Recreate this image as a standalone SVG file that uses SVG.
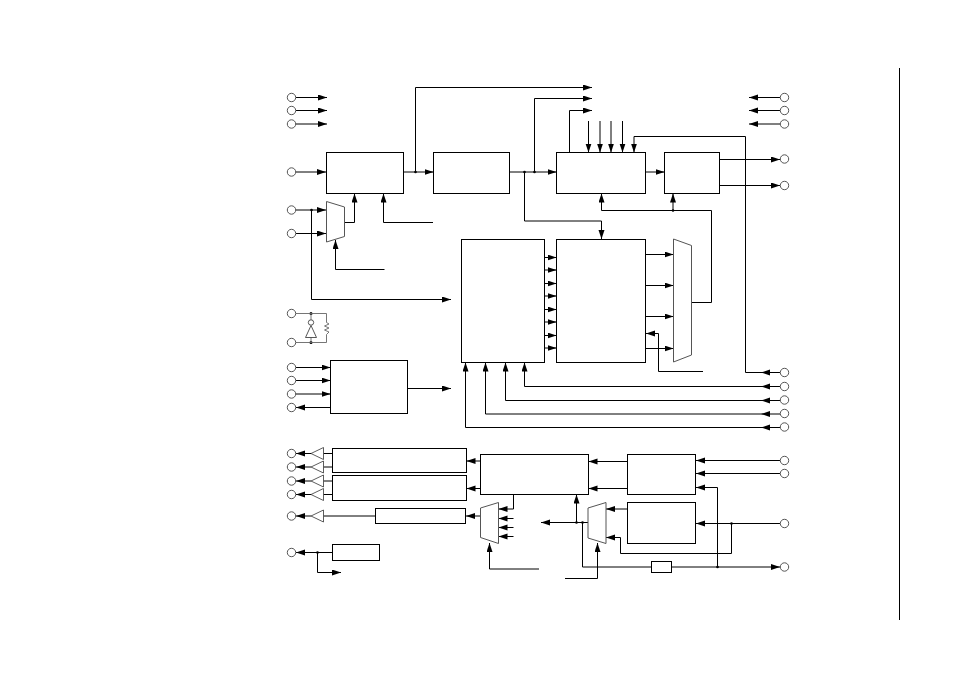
<svg xmlns="http://www.w3.org/2000/svg" width="972" height="688" viewBox="0 0 972 688">
<style>
.b{fill:#fff;stroke:#000;stroke-width:1}
.m{fill:#fff;stroke:#555;stroke-width:1}
.t{fill:#fff;stroke:#333;stroke-width:.8}
.g{fill:none;stroke:#666;stroke-width:.9}
.k{fill:#fff;stroke:#444;stroke-width:.9}
#c path{fill:none;stroke:#000;stroke-width:1}
#c path.a{marker-end:url(#h)}
#c circle{fill:#000;stroke:none}
</style>
<defs>
<marker id="h" markerUnits="userSpaceOnUse" markerWidth="10" markerHeight="7" refX="9" refY="3" orient="auto"><path d="M0,0 L9,3 L0,6z" fill="#000"/></marker>
</defs>
<rect width="972" height="688" fill="#fff"/>
<g id="rule"><path d="M899.5 68V620" stroke="#000" stroke-width="1" fill="none"/></g>
<g id="c">
<path class="a" d="M296 97.5H327"/><path class="a" d="M296 110.5H327"/><path class="a" d="M296 124H327"/>
<path class="a" d="M296 172H326"/>
<path class="a" d="M296 210H326"/><path class="a" d="M296 233.5H326"/>
<path d="M311.5 210V299.5H440"/><path class="a" d="M440 299.5H451"/>
<path class="a" d="M344 222.5H354.500V193.500"/>
<path class="a" d="M433 222.500H383.500V193.500"/>
<path class="a" d="M384.500 269.500H335.500V240"/>
<path class="a" d="M403.500 172H433.500"/>
<path class="a" d="M415.500 172V87.500H592"/>
<path class="a" d="M509.500 172H556.500"/>
<path class="a" d="M534.500 172V98.500H592"/>
<path class="a" d="M524.500 172V221H601.500V239"/>
<path class="a" d="M569.500 152.500V110.500H592"/>
<path class="a" d="M588.500 121V152.500"/><path class="a" d="M600 121V152.500"/><path class="a" d="M611 121V152.500"/><path class="a" d="M622.500 121V152.500"/>
<path class="a" d="M745.500 372.500V136.500H634V152.500"/>
<path class="a" d="M645.500 172H664.500"/>
<path class="a" d="M719.500 159.500H780"/><path class="a" d="M719.500 185.500H780"/>
<path class="a" d="M780 97.500H749"/><path class="a" d="M780 110.500H749"/><path class="a" d="M780 124H749"/>
<path class="a" d="M692 302.500H711.500V210.500H601.500V193.500"/>
<path class="a" d="M673 210.500V193.500"/>
<path class="a" d="M545 257.500H556.500"/><path class="a" d="M545 270H556.500"/><path class="a" d="M545 283.500H556.500"/><path class="a" d="M545 296H556.500"/><path class="a" d="M545 309.500H556.500"/><path class="a" d="M545 322H556.500"/><path class="a" d="M545 335.500H556.500"/><path class="a" d="M545 348H556.500"/>
<path class="a" d="M645.500 254.500H673.500"/><path class="a" d="M645.500 285.500H673.500"/><path class="a" d="M645.500 316.500H673.500"/><path class="a" d="M645.500 348.500H673.500"/>
<path class="a" d="M703 371.500H658.500V333.500H646"/>
<path class="a" d="M780 372.500H761"/><path d="M761 372.500H745.500"/>
<path class="a" d="M780 386.500H761"/><path class="a" d="M761 386.500H524.500V362.500"/>
<path class="a" d="M780 400.500H761"/><path class="a" d="M761 400.500H505.500V362.500"/>
<path class="a" d="M780 414H761"/><path class="a" d="M761 414H485.500V362.500"/>
<path class="a" d="M780 427.500H761"/><path class="a" d="M761 427.500H465.500V362.500"/>
<path class="a" d="M296 367.500H330.500"/><path class="a" d="M296 380.500H330.500"/><path class="a" d="M296 394H330.500"/><path class="a" d="M330.500 407.500H296"/>
<path class="a" d="M407.500 388.500H451"/>
<path d="M323.500 453.500H332.500"/><path d="M323.500 467H332.500"/><path d="M323.500 481H332.500"/><path d="M323.500 494.500H332.500"/><path d="M323.500 516H375.500"/>
<path class="a" d="M311 453.500H296"/><path class="a" d="M311 467H296"/><path class="a" d="M311 481H296"/><path class="a" d="M311 494.500H296"/><path class="a" d="M311 516H296"/>
<path class="a" d="M480.500 461H466.500"/><path class="a" d="M480.500 488.500H466.500"/><path class="a" d="M480.500 516H466"/>
<path class="a" d="M513.500 494.500V509H498.500"/><path class="a" d="M513.500 518.500H498.500"/><path class="a" d="M513.500 527.500H498.500"/><path class="a" d="M513.500 536.500H498.500"/>
<path class="a" d="M539 569H489.500V543"/>
<path class="a" d="M332.500 552.500H296"/><path class="a" d="M317.500 552.500V572.500H341"/>
<path class="a" d="M627.500 461.500H588.500"/><path class="a" d="M627.500 488.500H588.500"/>
<path class="a" d="M780 460.500H696"/><path class="a" d="M780 473.500H696"/>
<path class="a" d="M717.500 567V487.500H696"/>
<path class="a" d="M780 523.500H696"/>
<path class="a" d="M731.500 523.500V553.500H620.500V537.500H606"/>
<path class="a" d="M627.500 509H606"/>
<path class="a" d="M588 522.500H541"/>
<path class="a" d="M576.500 522.500V494.500"/>
<path d="M582.500 522.500V567H651.500"/>
<path class="a" d="M671.500 567H780"/>
<path class="a" d="M565 578.500H597.500V543"/>
<circle cx="415.500" cy="172" r="1.300"/><circle cx="524.500" cy="172" r="1.300"/><circle cx="534.500" cy="172" r="1.300"/><circle cx="673" cy="210.500" r="1.300"/><circle cx="311.500" cy="210" r="1.300"/><circle cx="317.500" cy="552.500" r="1.300"/><circle cx="576.500" cy="522.500" r="1.300"/><circle cx="582.500" cy="522.500" r="1.300"/><circle cx="717.500" cy="567" r="1.300"/><circle cx="731.500" cy="523.500" r="1.300"/><circle cx="311" cy="313.500" r="1.500"/><circle cx="311" cy="342.500" r="1.500"/>
</g>
<g id="blockA"><rect class="b" x="326.500" y="152.500" width="77" height="41"/></g>
<g id="blockB"><rect class="b" x="433.500" y="152.500" width="76" height="41"/></g>
<g id="blockC"><rect class="b" x="556.500" y="152.500" width="89" height="41"/></g>
<g id="blockD"><rect class="b" x="664.500" y="152.500" width="55" height="41"/></g>
<g id="blockE"><rect class="b" x="461.500" y="239.500" width="83" height="123"/></g>
<g id="blockF"><rect class="b" x="556.500" y="239.500" width="89" height="123"/></g>
<g id="blockG"><rect class="b" x="330.500" y="360.500" width="77" height="53"/></g>
<g id="blockH"><rect class="b" x="332.500" y="448.500" width="134" height="24"/></g>
<g id="blockI"><rect class="b" x="332.500" y="475.500" width="134" height="25"/></g>
<g id="blockJ"><rect class="b" x="375.500" y="508.500" width="90" height="15"/></g>
<g id="blockK"><rect class="b" x="480.500" y="454.500" width="108" height="40"/></g>
<g id="blockL"><rect class="b" x="627.500" y="454.500" width="68" height="40"/></g>
<g id="blockM"><rect class="b" x="627.500" y="502.500" width="68" height="41"/></g>
<g id="blockN"><rect class="b" x="651.500" y="561.500" width="20" height="11"/></g>
<g id="blockO"><rect class="b" x="332.500" y="544.500" width="47" height="16"/></g>
<g id="mux1"><path class="m" d="M326.500 201.500L344.500 207V236.500L326.500 242z"/></g>
<g id="mux2"><path class="m" d="M673.500 239L691.500 245.500V355L673.500 362z"/></g>
<g id="mux3"><path class="m" d="M480.500 508L498.500 502.500V543.500L480.500 537.500z"/></g>
<g id="mux4"><path class="m" d="M588 508L606 502.500V543.500L588 538z"/></g>
<g id="xtal">
<path class="g" d="M296 313.500H326.500V322.500M326.500 334.500V342.500H296"/>
<path class="g" d="M326.500 322.500L329 324L324.500 326L329 328L324.500 330L329 332L326.500 334.500"/>
<path class="g" d="M311 313.500V320M311 337V342.500"/>
<circle class="k" cx="311" cy="322.500" r="2.700"/>
<path class="k" d="M311 325.500L316.500 337.500H305.500z"/>
</g>
<g id="buf1"><path class="t" d="M311 453.500L323.500 447.500V459.500z"/></g>
<g id="buf2"><path class="t" d="M311 467L323.500 461V473z"/></g>
<g id="buf3"><path class="t" d="M311 481L323.500 475V487z"/></g>
<g id="buf4"><path class="t" d="M311 494.500L323.500 488.500V500.500z"/></g>
<g id="buf5"><path class="t" d="M311 516L323.500 510V522z"/></g>
<g id="t1"><circle class="k" cx="291.500" cy="97.500" r="4.200"/></g>
<g id="t2"><circle class="k" cx="291.500" cy="110.500" r="4.200"/></g>
<g id="t3"><circle class="k" cx="291.500" cy="124" r="4.200"/></g>
<g id="t4"><circle class="k" cx="291.500" cy="172" r="4.200"/></g>
<g id="t5"><circle class="k" cx="291.500" cy="210" r="4.200"/></g>
<g id="t6"><circle class="k" cx="291.500" cy="233.500" r="4.200"/></g>
<g id="t7"><circle class="k" cx="291.500" cy="313.500" r="4.200"/></g>
<g id="t8"><circle class="k" cx="291.500" cy="342.500" r="4.200"/></g>
<g id="t9"><circle class="k" cx="291.500" cy="367.500" r="4.200"/></g>
<g id="t10"><circle class="k" cx="291.500" cy="380.500" r="4.200"/></g>
<g id="t11"><circle class="k" cx="291.500" cy="394" r="4.200"/></g>
<g id="t12"><circle class="k" cx="291.500" cy="407.500" r="4.200"/></g>
<g id="t13"><circle class="k" cx="291.500" cy="453.500" r="4.200"/></g>
<g id="t14"><circle class="k" cx="291.500" cy="467" r="4.200"/></g>
<g id="t15"><circle class="k" cx="291.500" cy="481" r="4.200"/></g>
<g id="t16"><circle class="k" cx="291.500" cy="494.500" r="4.200"/></g>
<g id="t17"><circle class="k" cx="291.500" cy="516" r="4.200"/></g>
<g id="t18"><circle class="k" cx="291.500" cy="552.500" r="4.200"/></g>
<g id="t19"><circle class="k" cx="784.500" cy="97.500" r="4.200"/></g>
<g id="t20"><circle class="k" cx="784.500" cy="110.500" r="4.200"/></g>
<g id="t21"><circle class="k" cx="784.500" cy="124" r="4.200"/></g>
<g id="t22"><circle class="k" cx="784.500" cy="159" r="4.200"/></g>
<g id="t23"><circle class="k" cx="784.500" cy="185.500" r="4.200"/></g>
<g id="t24"><circle class="k" cx="784.500" cy="372.500" r="4.200"/></g>
<g id="t25"><circle class="k" cx="784.500" cy="386.500" r="4.200"/></g>
<g id="t26"><circle class="k" cx="784.500" cy="400" r="4.200"/></g>
<g id="t27"><circle class="k" cx="784.500" cy="413.500" r="4.200"/></g>
<g id="t28"><circle class="k" cx="784.500" cy="427" r="4.200"/></g>
<g id="t29"><circle class="k" cx="784.500" cy="460.500" r="4.200"/></g>
<g id="t30"><circle class="k" cx="784.500" cy="473.500" r="4.200"/></g>
<g id="t31"><circle class="k" cx="784.500" cy="523.500" r="4.200"/></g>
<g id="t32"><circle class="k" cx="784.500" cy="567" r="4.200"/></g>
</svg>
